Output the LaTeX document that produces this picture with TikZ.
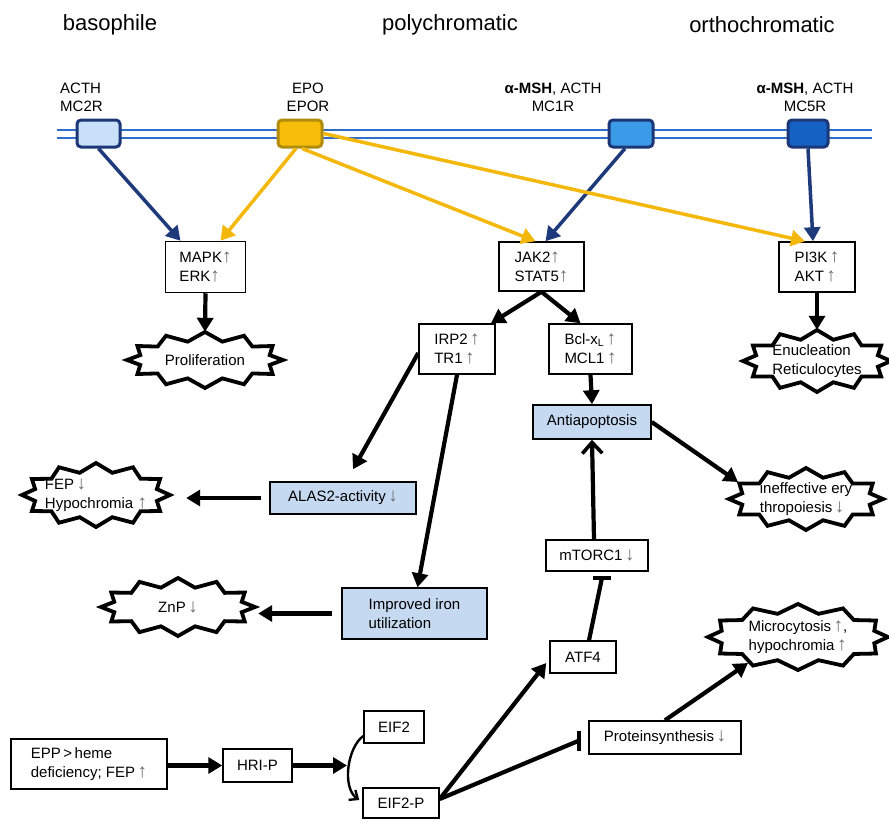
\documentclass[tikz,border=0pt]{standalone}
\usepackage{fontspec}
\setmainfont{Liberation Sans}
\usetikzlibrary{arrows.meta,calc}
\definecolor{navy}{RGB}{31,58,122}
\definecolor{yel}{RGB}{244,184,12}
\definecolor{membr}{RGB}{47,109,200}
\definecolor{recborder}{RGB}{28,55,120}
\definecolor{mctwo}{RGB}{200,224,248}
\definecolor{mcone}{RGB}{60,155,232}
\definecolor{mcfive}{RGB}{21,98,196}
\definecolor{epofill}{RGB}{246,190,10}
\definecolor{epoborder}{RGB}{176,140,10}
\definecolor{boxblue}{RGB}{197,217,241}
\definecolor{arrgray}{RGB}{110,110,110}
\newcommand\upa{\textcolor{arrgray}{\fontsize{19}{19}\selectfont ↑}}
\newcommand\dna{\textcolor{arrgray}{\fontsize{19}{19}\selectfont ↓}}
\newcommand\mkburst[4]{%
  \draw[burstline] ({#1+#3},#2)
  \foreach \a in {15,45,...,315}{
    -- ({#1+(#3-11)*cos(\a)},{#2+(#4-9)*sin(\a)})
    -- ({#1+#3*cos(\a+15)},{#2+#4*sin(\a+15)})
  } -- ({#1+(#3-11)*cos(345)},{#2+(#4-9)*sin(345)}) -- cycle;}
\begin{document}
\begin{tikzpicture}[x=1pt,y=-1pt,
  box/.style={draw=black, line width=1.5pt, fill=white, inner sep=0pt, align=left,
    font=\fontsize{15}{19}\selectfont},
  bluebox/.style={box, fill=boxblue},
  rec/.style={rounded corners=4pt, line width=3pt, minimum height=27pt, inner sep=0pt},
  lab/.style={inner sep=0pt, align=center, font=\fontsize{15}{18}\selectfont},
  hdr/.style={inner sep=0pt, font=\fontsize{22}{26}\selectfont},
  burstline/.style={draw=black, line width=3.8pt, fill=white, line join=miter},
  bursttext/.style={inner sep=0pt, align=left, font=\fontsize{15}{19}\selectfont},
  arr/.style={line width=4.2pt, -{Triangle[length=14pt,width=16pt]}},
  navyarr/.style={arr, draw=navy, line width=3.5pt},
  yelarr/.style={arr, draw=yel, line width=3.5pt},
  inh/.style={line width=4.2pt},
  openarr/.style={line width=4.2pt, -{Straight Barb[length=11pt,width=20pt,line width=3.6pt]}},
  curvearr/.style={line width=2.4pt, -{Straight Barb[length=7pt,width=12pt,line width=2.4pt]}},
  membrane/.style={draw=membr, line width=1.8pt}
]
\useasboundingbox (0,0) rectangle (889,820);

% headers
\node[hdr] (h1) at (110,25) {basophile};
\node[hdr] (h2) at (450,25) {polychromatic};
\node[hdr] (h3) at (762,25) {orthochromatic};

% receptor labels
\node[lab, anchor=west, align=left] (l1) at (60,97) {ACTH\\MC2R};
\node[lab] (l2) at (308,97) {EPO\\EPOR};
\node[lab] (l3) at (553,97) {\textbf{α-MSH}, ACTH\\MC1R};
\node[lab] (l4) at (805,97) {\textbf{α-MSH}, ACTH\\MC5R};

% membrane
\draw[membrane] (57,130) -- (872,130);
\draw[membrane] (57,138) -- (872,138);

% receptors
\node[rec, fill=mctwo, draw=recborder, minimum width=43pt] (mc2r) at (98.5,133.5) {};
\node[rec, fill=epofill, draw=epoborder, minimum width=44pt] (epor) at (300,133.5) {};
\node[rec, fill=mcone, draw=recborder, minimum width=44pt] (mc1r) at (631,133.5) {};
\node[rec, fill=mcfive, draw=recborder, minimum width=40pt] (mc5r) at (808,133.5) {};

% boxes
\node[box, minimum width=80pt, minimum height=51pt] (mapk) at (205.5,267) {MAPK\upa\\ERK\upa};
\node[box, minimum width=85pt, minimum height=49pt] (jak) at (541.5,266.5) {JAK2\upa\\STAT5\upa};
\node[box, minimum width=76pt, minimum height=50pt] (pi3k) at (817,267) {PI3K\,\upa\\AKT\,\upa};
\node[box, minimum width=76pt, minimum height=50pt] (irp) at (457,349) {IRP2\,\upa\\TR1\,\upa};
\node[box, minimum width=83pt, minimum height=50pt] (bcl) at (590.5,349) {Bcl-x\textsubscript{L}\,\upa\\MCL1\,\upa};
\node[bluebox, minimum width=118pt, minimum height=34pt] (anti) at (592,422) {Antiapoptosis};
\node[bluebox, minimum width=146pt, minimum height=32pt] (alas) at (343,498) {ALAS2-activity\,\dna};
\node[bluebox, minimum width=145pt, minimum height=51pt] (iron) at (414.5,613.5) {Improved iron\hspace{30pt}\\utilization};
\node[box, minimum width=102pt, minimum height=31pt] (mtorc) at (597,555.5) {mTORC1\,\dna};
\node[box, minimum width=66pt, minimum height=32pt] (atf) at (583,657) {ATF4};
\node[box, minimum width=152pt, minimum height=33pt] (prot) at (665,737.5) {Proteinsynthesis\,\dna};
\node[box, minimum width=156pt, minimum height=50pt] (epp) at (89,764) {EPP\,>\,heme\\deficiency; FEP\,\upa};
\node[box, minimum width=69pt, minimum height=33pt] (hri) at (257.5,765.5) {HRI-P};
\node[box, minimum width=60pt, minimum height=32pt] (eif) at (394,727) {EIF2};
\node[box, minimum width=76pt, minimum height=30pt] (eifp) at (401,803) {EIF2-P};

% bursts
\mkburst{205}{360}{78}{28}
\node[bursttext, minimum width=156pt, minimum height=56pt] (prolif) at (205,360) {Proliferation};
\mkburst{817}{361}{74}{31}
\node[bursttext, minimum width=148pt, minimum height=62pt] (enuc) at (817,361) {Enucleation\\Reticulocytes};
\mkburst{96}{495}{74}{32}
\node[bursttext, minimum width=148pt, minimum height=64pt] (fep) at (96,495) {FEP\,\dna\\Hypochromia \upa};
\mkburst{178}{607}{77}{29}
\node[bursttext, minimum width=154pt, minimum height=58pt] (znp) at (178,607) {ZnP\,\dna};
\mkburst{806}{499}{77}{31}
\node[bursttext, minimum width=154pt, minimum height=62pt] (ineff) at (806,499) {ineffective ery\\thropoiesis\,\dna};
\mkburst{798}{637}{90}{33}
\node[bursttext, minimum width=180pt, minimum height=66pt] (micro) at (798,637) {Microcytosis\,\upa,\\hypochromia\,\upa};

% receptor arrows
\draw[navyarr] (mc2r.south) -- ([xshift=-25pt]mapk.north);
\draw[yelarr] ([xshift=-4pt]epor.south) -- ([xshift=15pt]mapk.north);
\draw[yelarr] ([xshift=2pt]epor.south) -- ([xshift=-6pt]jak.north);
\draw[navyarr] ([xshift=-6pt]mc1r.south) -- ([xshift=4pt]jak.north);
\draw[yelarr] (epor.east) -- ([xshift=-12pt]pi3k.north);
\draw[navyarr] (mc5r.south) -- ([xshift=-4pt]pi3k.north);

% black arrows
\draw[arr] (mapk.south) -- (prolif.north);
\draw[arr] (jak.south) -- ([xshift=34pt]irp.north);
\draw[arr] (jak.south) -- ([xshift=-10pt]bcl.north);
\draw[arr] (pi3k.south) -- (enuc.north);
\draw[arr] ([yshift=-4pt]irp.west) -- ([xshift=10pt,yshift=12pt]alas.north);
\draw[arr] (irp.south) -- ([xshift=3pt]iron.north);
\draw[arr] (bcl.south) -- (anti.north);
\draw[arr, shorten <=8pt, shorten >=16pt] (alas.west) -- (alas.west -| fep.east);
\draw[arr, shorten <=9pt, shorten >=3pt] (iron.west) -- (iron.west -| znp.east);
\draw[arr] (anti.east) -- ($(ineff.center)+(-68,-17)$);
\draw[openarr] ([xshift=-3pt]mtorc.north) -- (anti.south);
\coordinate (mbar) at ([xshift=5pt,yshift=-6pt]mtorc.south);
\draw[inh] ([xshift=6pt]atf.north) -- (mbar);
\draw[inh] ([xshift=-9pt]mbar) -- ([xshift=9pt]mbar);
\draw[arr] ([yshift=4pt]eifp.east) -- ([xshift=-3pt,yshift=-6pt]atf.west);
\coordinate (pbar) at ([xshift=-9pt,yshift=-3pt]prot.west);
\draw[inh] ([yshift=4pt]eifp.east) -- (pbar);
\draw[inh] ([yshift=10pt]pbar) -- ([yshift=-10pt]pbar);
\draw[arr] (prot.north) -- ($(micro.center)+(-50,26)$);
\draw[arr] (hri.west -| epp.east) -- (hri.west);
\coordinate (cm) at (347,765.5);
\draw[arr] (hri.east) -- (cm);
\draw[curvearr] ([yshift=-9pt]eif.west) .. controls (347,748) and (342,788) .. ([xshift=-3pt,yshift=3pt]eifp.west);
\end{tikzpicture}
\end{document}
